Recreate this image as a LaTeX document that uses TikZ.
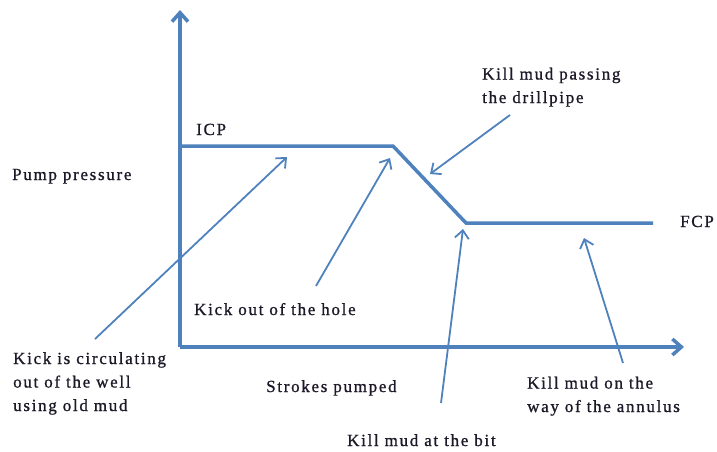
\documentclass[tikz,border=0pt]{standalone}
\usepackage{fontspec}
\setmainfont{Liberation Serif}[LetterSpace=10,FakeBold=1]
\usetikzlibrary{arrows.meta}
\definecolor{lineblue}{RGB}{79,129,189}
\definecolor{txt}{RGB}{30,25,40}
\tikzset{
  thickline/.style={draw=lineblue, line width=3.5pt, line join=miter},
  axisline/.style={thickline, -{Straight Barb[length=9pt,width=16pt,line width=3.5pt]}},
  pointer/.style={draw=lineblue, line width=1.8pt, -{Straight Barb[length=8pt,width=14pt,line width=1.8pt]}},
  lbl/.style={text=txt, font=\fontsize{17}{23.5}\selectfont, inner sep=0pt, align=left, anchor=base west}
}
\begin{document}
\begin{tikzpicture}[x=1pt,y=-1pt]
\useasboundingbox (0,0) rectangle (717,452);
% key points
\coordinate (origin) at (180,347);
\coordinate (ytip) at (180,10);
\coordinate (xtip) at (684,347);
\coordinate (icp0) at (180,146);
\coordinate (peak) at (393,146);
\coordinate (bot) at (466,223);
\coordinate (fcpend) at (653,223);
% axes
\draw[axisline] (origin) -- (ytip);
\draw[axisline] (origin) -- (xtip);
% pressure curve
\draw[thickline] (icp0) -- (peak) -- (bot) -- (fcpend);
% labels (base anchor = baseline of the last line)
\node[lbl] (icp) at (196,135) {ICP};
\node[lbl] (fcp) at (680,227) {FCP};
\node[lbl] (pump) at (12,180) {Pump pressure};
\node[lbl] (passing) at (482,103) {Kill mud passing\\the drillpipe};
\node[lbl] (hole) at (194,315) {Kick out of the hole};
\node[lbl] (circ) at (13,411) {Kick is circulating\\out of the well\\using old mud};
\node[lbl] (strokes) at (266,392) {Strokes pumped};
\node[lbl] (annulus) at (527,412) {Kill mud on the\\way of the annulus};
\node[lbl] (bit) at (347,446) {Kill mud at the bit};
% pointer tails and heads
\coordinate (t1) at (95,339);
\coordinate (h1) at (287,157);
\coordinate (t2) at (316,286);
\coordinate (h2) at (390,158);
\coordinate (t3) at (510,115);
\coordinate (h3) at (430,174);
\coordinate (t4) at (441,403);
\coordinate (h4) at (463,229);
\coordinate (t5) at (623,363);
\coordinate (h5) at (584,238);
\draw[pointer] (t1) -- (h1);
\draw[pointer] (t2) -- (h2);
\draw[pointer] (t3) -- (h3);
\draw[pointer] (t4) -- (h4);
\draw[pointer] (t5) -- (h5);
\end{tikzpicture}
\end{document}
